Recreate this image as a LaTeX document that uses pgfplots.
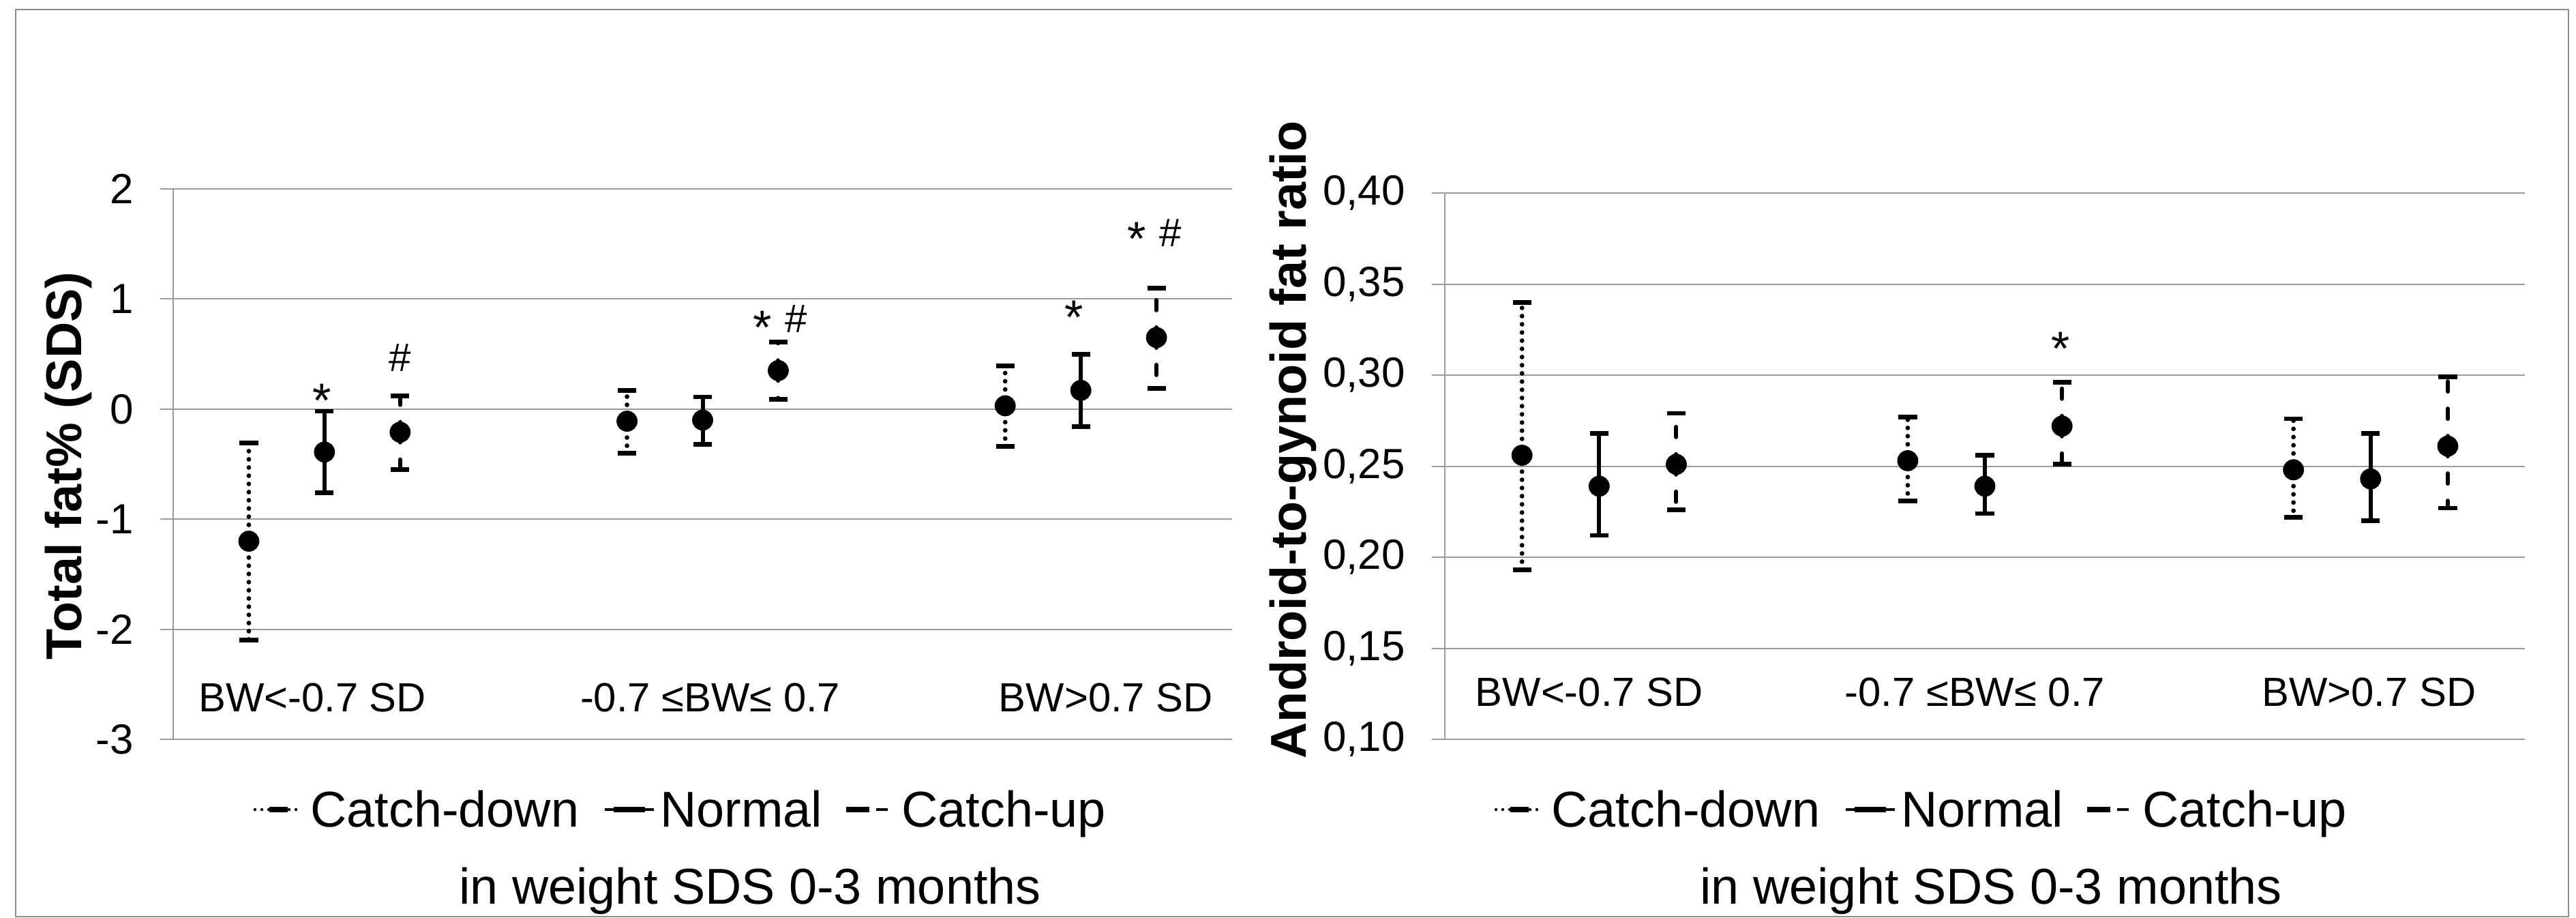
\documentclass[border=0pt]{standalone}
\usepackage{fontspec}
\setmainfont{Liberation Sans}
\usepackage{pgfplots}
\pgfplotsset{compat=1.18}
\usepackage{pgfplotstable}

\definecolor{gridgray}{RGB}{155,155,155}
\definecolor{framegray}{RGB}{140,140,140}

% x = slot on the category axis, y = mean, ep/em = upper/lower error
\pgfplotstableread{
x  y      ep    em
0  -1.20  0.89  0.90
5  -0.11  0.28  0.29
10  0.03  0.36  0.37
}\fatdown
\pgfplotstableread{
x  y      ep    em
1  -0.39  0.37  0.37
6  -0.10  0.21  0.22
11  0.17  0.33  0.33
}\fatnormal
\pgfplotstableread{
x  y      ep    em
2  -0.21  0.33  0.34
7   0.35  0.26  0.26
12  0.65  0.45  0.46
}\fatup
\pgfplotstableread{
x  y      ep     em
0  0.256  0.084  0.063
5  0.253  0.024  0.022
10 0.248  0.028  0.026
}\agdown
\pgfplotstableread{
x  y      ep     em
1  0.239  0.029  0.027
6  0.239  0.017  0.015
11 0.243  0.025  0.023
}\agnormal
\pgfplotstableread{
x  y      ep     em
2  0.251  0.028  0.025
7  0.272  0.024  0.021
12 0.261  0.038  0.034
}\agup

\pgfplotsset{
  panel/.style={
    scale only axis, clip=false,
    xmin=-1, xmax=13,
    axis x line=none,
    axis y line*=left,
    axis line style={gridgray, line width=0.1mm},
    ymajorgrids, grid style={gridgray, line width=0.1mm},
    major tick length=0.95mm, tick align=outside,
    ytick style={gridgray, line width=0.1mm},
    yticklabel style={font=\fontsize{8.8}{10}\selectfont, inner sep=0pt, xshift=-1.9mm},
  },
  pt/.style={only marks, mark=*, mark size=0.7mm, black, mark options={solid},
    error bars/y dir=both, error bars/y explicit,
    error bars/error mark options={rotate=90, solid, line cap=butt, line width=0.34mm, mark size=0.68mm}},
  cd/.style={pt, error bars/error bar style={line width=0.34mm, line cap=round, dash pattern=on 0pt off 0.6mm}},
  nm/.style={pt, error bars/error bar style={line width=0.3mm, solid}},
  cu/.style={pt, error bars/error bar style={line width=0.3mm, line cap=round, dash pattern=on 0.75mm off 1.25mm}},
}
\newcommand{\st}[2]{\node[anchor=north, inner sep=0pt, font=\fontsize{10}{10}\selectfont] at (axis cs:#1,#2) {*};}
\newcommand{\hs}[2]{\node[anchor=north, inner sep=0pt, font=\fontsize{8.3}{9}\selectfont] at (axis cs:#1,#2) {\#};}
\newcommand{\cat}[3]{\node[font=\fontsize{8.5}{10}\selectfont, inner sep=0pt] at (axis cs:#1,#2) {#3};}

\begin{document}
\begin{tikzpicture}
\path[use as bounding box] (0,0) rectangle (188.9mm,67.25mm);
\draw[framegray, line width=0.1mm] (1.15mm,0.05mm) rectangle (188.35mm,66.55mm);

\begin{axis}[panel, at={(12.7mm,13.05mm)}, anchor=south west,
  width=77.65mm, height=40.35mm,
  ymin=-3, ymax=2, ytick={-3,-2,-1,0,1,2},
  yticklabels={-3,-2,-1,0,1,2}]
\addplot[cd] table[x=x, y=y, y error plus=ep, y error minus=em] {\fatdown};
\addplot[nm] table[x=x, y=y, y error plus=ep, y error minus=em] {\fatnormal};
\addplot[cu] table[x=x, y=y, y error plus=ep, y error minus=em] {\fatup};
\st{0.97}{0.235}
\hs{2.0}{0.60}
\st{6.79}{0.898} \hs{7.24}{0.95}
\st{10.91}{0.991}
\st{11.74}{1.703} \hs{12.19}{1.73}
\cat{0.84}{-2.62}{BW<-0.7 SD}
\cat{6.1}{-2.62}{-0.7 ≤BW≤ 0.7}
\cat{11.33}{-2.62}{BW>0.7 SD}
\end{axis}

\begin{axis}[panel, at={(105.95mm,13.05mm)}, anchor=south west,
  width=79.2mm, height=40.05mm,
  ymin=0.1, ymax=0.4, ytick={0.1,0.15,0.2,0.25,0.3,0.35,0.4},
  yticklabels={{0,10},{0,15},{0,20},{0,25},{0,30},{0,35},{0,40}}]
\addplot[cd] table[x=x, y=y, y error plus=ep, y error minus=em] {\agdown};
\addplot[nm] table[x=x, y=y, y error plus=ep, y error minus=em] {\agnormal};
\addplot[cu] table[x=x, y=y, y error plus=ep, y error minus=em] {\agup};
\st{6.98}{0.324}
\cat{0.87}{0.126}{BW<-0.7 SD}
\cat{5.87}{0.126}{-0.7 ≤BW≤ 0.7}
\cat{10.98}{0.126}{BW>0.7 SD}
\end{axis}

\node[rotate=90, anchor=base, font=\fontsize{10.5}{12}\selectfont\bfseries] at (5.95mm,33.1mm) {Total fat\% (SDS)};
\node[rotate=90, anchor=base, font=\fontsize{10.5}{12}\selectfont\bfseries] at (95.75mm,35.0mm) {Android-to-gynoid fat ratio};

\foreach \dx in {0mm,91mm} {
  \begin{scope}[xshift=\dx]
    \draw[line width=0.22mm, line cap=round, dash pattern=on 0pt off 0.5mm] (18.7mm,7.9mm) -- (21.8mm,7.9mm);
    \draw[line width=0.4mm] (19.75mm,7.9mm) -- (21.1mm,7.9mm);
    \draw[line width=0.2mm] (44.35mm,7.9mm) -- (47.95mm,7.9mm);
    \draw[line width=0.4mm] (45.0mm,7.9mm) -- (47.3mm,7.9mm);
    \draw[line width=0.2mm, dash pattern=on 1.7mm off 0.5mm] (62.05mm,7.9mm) -- (65.1mm,7.9mm);
    \draw[line width=0.4mm] (62.05mm,7.9mm) -- (63.75mm,7.9mm);
    \node[anchor=base west, inner sep=0pt, font=\fontsize{10.5}{12}\selectfont] at (22.7mm,6.65mm) {Catch-down};
    \node[anchor=base west, inner sep=0pt, font=\fontsize{10.5}{12}\selectfont] at (48.35mm,6.65mm) {Normal};
    \node[anchor=base west, inner sep=0pt, font=\fontsize{10.5}{12}\selectfont] at (66.05mm,6.65mm) {Catch-up};
    \node[anchor=base, inner sep=0pt, font=\fontsize{10.5}{12}\selectfont] at (55mm,1.0mm) {in weight SDS 0-3 months};
  \end{scope}
}
\end{tikzpicture}
\end{document}
